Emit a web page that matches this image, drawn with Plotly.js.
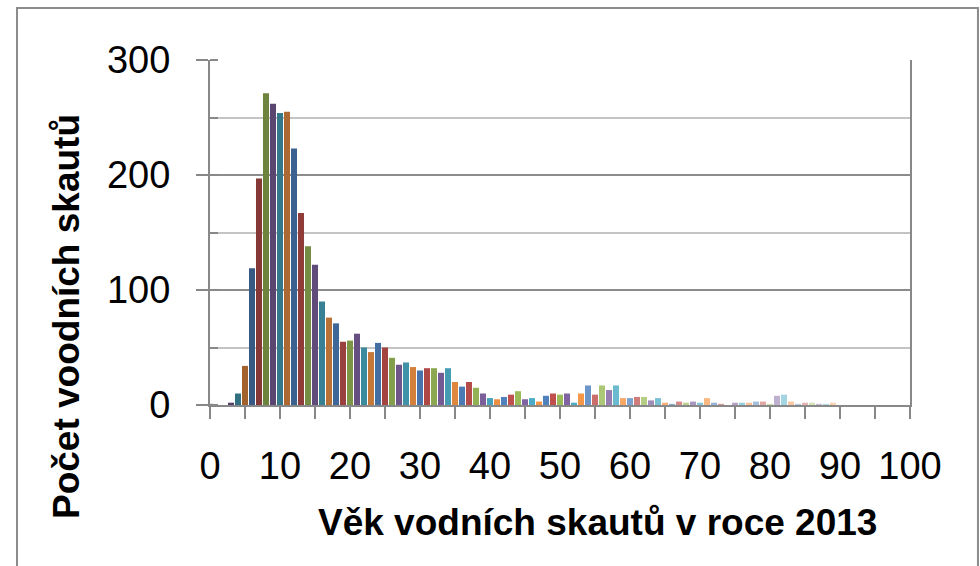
<!DOCTYPE html>
<html>
<head>
<meta charset="utf-8">
<script src="https://cdn.plot.ly/plotly-3.0.1.min.js"></script>
<style>
html,body{margin:0;padding:0;background:#fff;}
#chart{width:980px;height:566px;}
</style>
</head>
<body>
<div id="chart"></div>
<script>
// Age (years) in 2013
const ages = [];
for (let a = 0; a <= 100; a++) ages.push(a);

// Number of water scouts per age
const counts = [
  1, 0, 0, 2, 10, 34, 119, 197, 271, 262,
  254, 255, 223, 167, 138, 122, 90, 76, 71, 55,
  56, 62, 50, 46, 54, 50, 41, 35, 37, 33,
  30, 32, 32, 28, 32, 20, 16, 20, 15, 10,
  6, 5, 7, 9, 12, 5, 6, 3, 8, 10,
  9, 10, 2, 10, 17, 9, 17, 13, 17, 6,
  6, 7, 7, 4, 6, 2, 1, 3, 2, 3,
  2, 6, 2, 1, 0, 2, 2, 2, 3, 3,
  1, 8, 9, 3, 1, 2, 2, 1, 1, 2,
  0, 0, 0, 0, 0, 0, 0, 0, 0, 0,
  0
];

const xTickLabels = ['0','10','20','30','40','50','60','70','80','90','100'];
const xTickVals = [0,10,20,30,40,50,60,70,80,90,100];
const yTickVals = [0,100,200,300];

// Office 2007 accent palette, varied by point (dark -> base -> light)
const basePalette = ['#4F81BD','#C0504D','#9BBB59','#8064A2','#4BACC6','#F79646'];
function hexToRgb(h){return [parseInt(h.substr(1,2),16),parseInt(h.substr(3,2),16),parseInt(h.substr(5,2),16)];}
function pointColor(i){
  const base = hexToRgb(basePalette[i % 6]);
  const c = Math.floor(i / 6);
  let rgb;
  if (c <= 7) {
    const f = 0.65 + 0.05 * c;
    rgb = base.map(v => Math.round(v * f));
  } else {
    const t = c === 8 ? 0 : 0.09 + 0.08 * (c - 8);
    rgb = base.map(v => Math.round(v + (255 - v) * t));
  }
  return 'rgb(' + rgb.join(',') + ')';
}
const colors = ages.map((a, i) => pointColor(i));

const axisColor = '#888888';
const tickFont = {family: '"Liberation Sans", Arial, sans-serif', size: 38, color: '#000'};
const titleFont = {family: '"Liberation Sans", Arial, sans-serif', size: 37, color: '#000', weight: 'bold'};

const trace = {
  type: 'bar',
  x: ages,
  y: counts,
  marker: {color: colors, line: {width: 0}},
  hoverinfo: 'x+y'
};

const layout = {
  width: 980,
  height: 566,
  margin: {l: 210, r: 70, t: 60, b: 161},
  paper_bgcolor: '#fff',
  plot_bgcolor: '#fff',
  showlegend: false,
  bargap: 0.14,
  xaxis: {
    type: 'linear',
    range: [0, 100],
    tickvals: xTickVals,
    ticktext: xTickLabels,
    ticks: 'outside',
    ticklen: 12,
    tickwidth: 2,
    tickcolor: axisColor,
    showline: true,
    linecolor: axisColor,
    linewidth: 2,
    showgrid: false,
    zeroline: false,
    tickfont: tickFont,
    ticklabelstandoff: 14,
    minor: {dtick: 5, tick0: 0, ticks: 'outside', ticklen: 12, tickwidth: 2, tickcolor: axisColor, showgrid: false}
  },
  yaxis: {
    range: [0, 300],
    tickvals: yTickVals,
    ticks: 'outside',
    ticklen: 12,
    tickwidth: 2,
    tickcolor: axisColor,
    showline: true,
    mirror: true,
    linecolor: axisColor,
    linewidth: 2,
    showgrid: true,
    gridcolor: '#8c8c8c',
    gridwidth: 2,
    zeroline: false,
    tickfont: tickFont,
    ticklabelstandoff: 18,
    minor: {dtick: 50, tick0: 0, ticks: 'inside', ticklen: 8, tickwidth: 2, tickcolor: axisColor, showgrid: true, gridcolor: '#c4c4c4', gridwidth: 2}
  },
  annotations: [
    {text: 'Věk vodních skautů v roce 2013', xref: 'paper', yref: 'paper', x: 0.553, y: -0.342,
     xanchor: 'center', yanchor: 'middle', showarrow: false, font: titleFont},
    {text: 'Počet voodních skautů', xref: 'paper', yref: 'paper', x: -0.2057, y: 0.255,
     xanchor: 'center', yanchor: 'middle', showarrow: false, textangle: -90, font: titleFont}
  ],
  shapes: [
    {type: 'rect', xref: 'paper', yref: 'paper', x0: -0.2757, x1: 1.0971, y0: -0.48, y1: 1.1507,
     line: {color: '#8c8c8c', width: 2}, fillcolor: 'rgba(0,0,0,0)', layer: 'below'}
  ]
};

Plotly.newPlot('chart', [trace], layout, {displayModeBar: false, staticPlot: true});
</script>
</body>
</html>
